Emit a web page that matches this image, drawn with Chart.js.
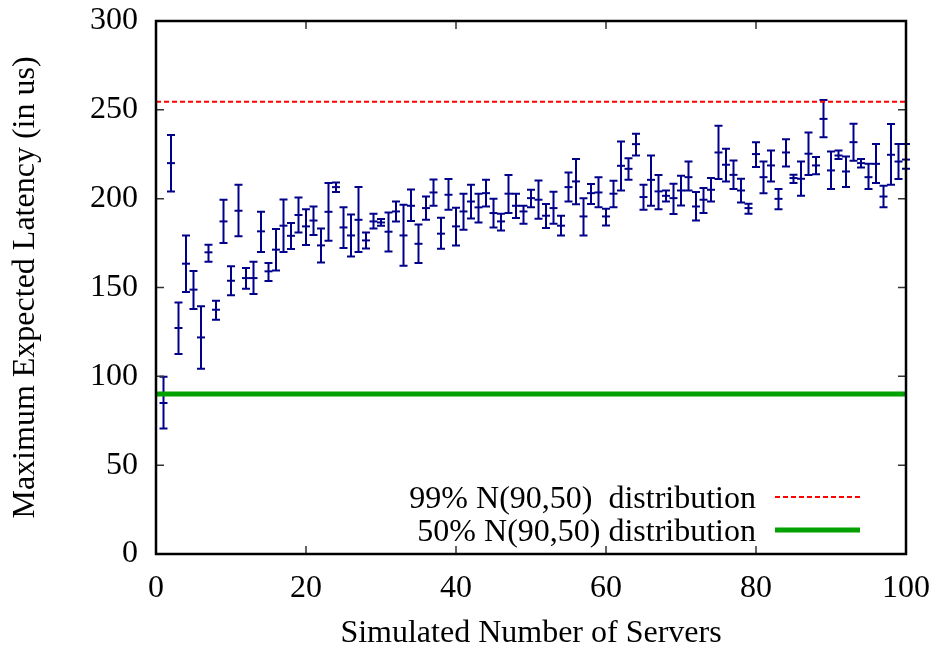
<!DOCTYPE html>
<html>
<head>
<meta charset="utf-8">
<script src="https://cdn.jsdelivr.net/npm/chart.js@4.4.1/dist/chart.umd.min.js"></script>
<style>
  body { margin: 0; background: #fff; }
</style>
</head>
<body>
<canvas id="chart-latency" width="941" height="653"></canvas>
<script>
// simulated server counts (x)
const servers = [
  1, 2, 3, 4, 5, 6, 7, 8, 9, 10, 11, 12, 13, 14, 15, 16, 17, 18, 19, 20,
  21, 22, 23, 24, 25, 26, 27, 28, 29, 30, 31, 32, 33, 34, 35, 36, 37, 38, 39, 40,
  41, 42, 43, 44, 45, 46, 47, 48, 49, 50, 51, 52, 53, 54, 55, 56, 57, 58, 59, 60,
  61, 62, 63, 64, 65, 66, 67, 68, 69, 70, 71, 72, 73, 74, 75, 76, 77, 78, 79, 80,
  81, 82, 83, 84, 85, 86, 87, 88, 89, 90, 91, 92, 93, 94, 95, 96, 97, 98, 99, 100
];
// max expected latency (us), mean and error bar ends
const latency = [
  85.0, 220.0, 127.2, 163.4, 148.8, 121.9, 169.8, 137.5, 187.2, 153.8,
  193.2, 155.3, 155.3, 181.6, 159.1, 171.3, 184.8, 179.1, 190.8, 184.4,
  187.7, 173.7, 192.6, 206.5, 183.8, 179.3, 188.1, 176.5, 187.2, 186.6,
  181.4, 192.8, 179.3, 196.0, 174.6, 194.7, 203.5, 180.3, 202.2, 184.4,
  192.8, 198.4, 195.1, 203.1, 191.9, 187.2, 202.8, 196.0, 192.8, 200.3,
  199.4, 190.4, 194.7, 184.8, 206.5, 209.7, 190.0, 203.1, 203.5, 190.0,
  202.8, 218.5, 216.8, 230.7, 200.9, 210.6, 204.1, 201.6, 200.3, 204.6,
  212.1, 195.6, 199.4, 205.0, 226.0, 219.1, 213.4, 204.6, 194.7, 225.1,
  212.1, 218.7, 199.9, 226.0, 211.6, 211.2, 225.3, 218.7, 244.9, 215.9,
  224.3, 215.3, 231.8, 220.0, 212.1, 219.6, 201.2, 224.7, 220.9, 222.0
];
const latencyLow = [
  70.6, 204.1, 112.6, 147.5, 137.9, 104.3, 164.5, 131.9, 175.0, 145.6,
  178.8, 149.3, 146.3, 170.0, 153.6, 159.6, 170.0, 171.7, 181.0, 173.9,
  179.5, 164.1, 176.3, 203.7, 172.2, 167.5, 170.0, 172.0, 183.2, 184.8,
  170.3, 187.2, 162.3, 187.4, 163.8, 188.1, 196.0, 171.8, 193.8, 173.7,
  182.5, 188.9, 186.6, 195.6, 183.8, 182.1, 191.9, 189.1, 185.9, 195.2,
  188.7, 183.5, 185.9, 179.3, 198.4, 196.8, 179.3, 197.0, 195.2, 184.9,
  195.2, 204.6, 210.6, 224.3, 193.8, 196.0, 194.1, 198.4, 191.3, 196.2,
  204.6, 187.7, 191.9, 198.4, 211.0, 209.7, 205.4, 197.9, 191.5, 217.8,
  203.1, 209.7, 194.1, 218.1, 208.8, 201.6, 213.3, 213.8, 234.6, 205.4,
  222.3, 206.5, 221.3, 217.6, 205.4, 208.8, 195.1, 207.8, 211.0, 216.8
];
const latencyHigh = [
  99.7, 235.9, 141.6, 179.3, 159.3, 139.4, 174.1, 142.6, 199.4, 161.9,
  207.8, 161.0, 164.5, 192.6, 163.8, 182.9, 199.6, 186.3, 200.7, 194.1,
  195.6, 183.2, 208.8, 209.1, 195.2, 191.1, 206.5, 181.0, 191.5, 188.5,
  192.2, 198.4, 196.6, 205.2, 185.5, 201.2, 210.8, 189.3, 211.0, 194.9,
  202.8, 207.8, 202.8, 210.6, 199.9, 191.5, 213.3, 202.8, 196.0, 205.0,
  210.2, 197.0, 203.9, 190.4, 214.7, 222.3, 200.3, 208.2, 212.1, 194.3,
  210.1, 232.2, 222.8, 236.5, 207.8, 224.3, 213.3, 204.6, 208.4, 212.9,
  220.9, 203.7, 206.0, 211.6, 241.0, 228.1, 221.5, 211.2, 197.2, 231.8,
  220.9, 227.1, 205.4, 233.5, 213.4, 220.9, 237.2, 223.4, 255.6, 226.5,
  227.1, 223.7, 242.1, 222.3, 219.6, 230.7, 207.2, 242.0, 230.7, 230.7
];
// reference levels of the N(90,50) distribution
const p99Latency = 254.5;
const p50Latency = 90;
const lineLabels = ['99% N(90,50)  distribution', '50% N(90,50) distribution'];

const xTicks = [0, 20, 40, 60, 80, 100];
const yTicks = [0, 50, 100, 150, 200, 250, 300];

const barColor = '#00008b';
const serif = '"Liberation Serif", "Times New Roman", serif';

Chart.defaults.font.family = serif;
Chart.defaults.font.size = 32;
Chart.defaults.color = '#000';

// vertical error bars with caps, drawn under the lines
const errorBars = {
    id: 'errorBars',
    beforeDatasetsDraw(chart) {
        const { ctx, scales: { x, y } } = chart;
        ctx.save();
        ctx.strokeStyle = barColor;
        ctx.lineWidth = 2;
        servers.forEach((s, i) => {
            const px = x.getPixelForValue(s);
            const hi = y.getPixelForValue(latencyHigh[i]);
            const lo = y.getPixelForValue(latencyLow[i]);
            ctx.beginPath();
            ctx.moveTo(px, hi); ctx.lineTo(px, lo);
            ctx.moveTo(px - 4, hi); ctx.lineTo(px + 4, hi);
            ctx.moveTo(px - 4, lo); ctx.lineTo(px + 4, lo);
            ctx.stroke();
        });
        ctx.restore();
    }
};

// gnuplot style box with inward (mirrored) ticks
const frame = {
    id: 'frame',
    afterDraw(chart) {
        const { ctx, chartArea: a, scales: { x, y } } = chart;
        ctx.save();
        ctx.strokeStyle = '#333';
        ctx.lineWidth = 1.5;
        ctx.beginPath();
        xTicks.forEach(v => {
            const px = x.getPixelForValue(v);
            ctx.moveTo(px, a.bottom); ctx.lineTo(px, a.bottom - 8);
            ctx.moveTo(px, a.top); ctx.lineTo(px, a.top + 8);
        });
        yTicks.forEach(v => {
            const py = y.getPixelForValue(v);
            ctx.moveTo(a.left, py); ctx.lineTo(a.left + 8, py);
            ctx.moveTo(a.right, py); ctx.lineTo(a.right - 8, py);
        });
        ctx.stroke();
        ctx.strokeStyle = '#000';
        ctx.lineWidth = 2.5;
        ctx.strokeRect(a.left, a.top, a.right - a.left, a.bottom - a.top);
        ctx.restore();
    }
};

// key in the lower right corner: text first, then the line sample
const lineKey = {
    id: 'lineKey',
    afterDraw(chart) {
        const { ctx, chartArea: a } = chart;
        ctx.save();
        ctx.font = '32px ' + serif;
        ctx.fillStyle = '#000';
        ctx.textAlign = 'right';
        ctx.textBaseline = 'middle';
        [0, 1].forEach(i => {
            const ds = chart.data.datasets[i];
            const rowY = a.bottom - 57 + i * 33;
            ctx.fillText(ds.label, a.right - 150, rowY + 3);
            ctx.strokeStyle = ds.borderColor;
            ctx.lineWidth = ds.borderWidth;
            ctx.setLineDash(ds.borderDash || []);
            ctx.beginPath();
            ctx.moveTo(a.right - 131, rowY);
            ctx.lineTo(a.right - 46, rowY);
            ctx.stroke();
        });
        ctx.restore();
    }
};

new Chart(document.getElementById('chart-latency'), {
    type: 'scatter',
    data: {
        datasets: [{
            label: lineLabels[0],
            type: 'line',
            data: [{ x: xTicks[0], y: p99Latency }, { x: xTicks[xTicks.length - 1], y: p99Latency }],
            borderColor: '#ff0000',
            borderWidth: 2,
            borderDash: [5, 3],
            pointRadius: 0,
            fill: false
        }, {
            label: lineLabels[1],
            type: 'line',
            data: [{ x: xTicks[0], y: p50Latency }, { x: xTicks[xTicks.length - 1], y: p50Latency }],
            borderColor: '#00a000',
            borderWidth: 5,
            pointRadius: 0,
            fill: false
        }, {
            label: 'Maximum Expected Latency',
            data: servers.map((s, i) => ({ x: s, y: latency[i] })),
            pointStyle: 'line',
            pointRadius: 4,
            borderColor: barColor,
            borderWidth: 2,
            clip: false
        }]
    },
    options: {
        responsive: false,
        animation: false,
        layout: { padding: { top: 21, right: 35, left: 0, bottom: 0 } },
        plugins: {
            legend: { display: false },
            tooltip: { enabled: false }
        },
        scales: {
            x: {
                type: 'linear',
                min: 0,
                max: 100,
                afterBuildTicks: s => { s.ticks = xTicks.map(v => ({ value: v })); },
                afterFit: s => { s.height = 99; s.paddingLeft = 0; s.paddingRight = 0; },
                grid: { display: false, drawTicks: false },
                border: { display: false },
                ticks: { padding: 15, maxRotation: 0 },
                title: {
                    display: true,
                    text: 'Simulated Number of Servers',
                    padding: { top: 0, bottom: 0 }
                }
            },
            y: {
                type: 'linear',
                min: 0,
                max: 300,
                afterBuildTicks: s => { s.ticks = yTicks.map(v => ({ value: v })); },
                afterFit: s => { s.width = 156; s.paddingTop = 0; s.paddingBottom = 0; },
                grid: { display: false, drawTicks: false },
                border: { display: false },
                ticks: { padding: 18 },
                title: {
                    display: true,
                    text: 'Maximum Expected Latency (in us)',
                    padding: { top: 6, bottom: 0 }
                }
            }
        }
    },
    plugins: [errorBars, frame, lineKey]
});
</script>
</body>
</html>
